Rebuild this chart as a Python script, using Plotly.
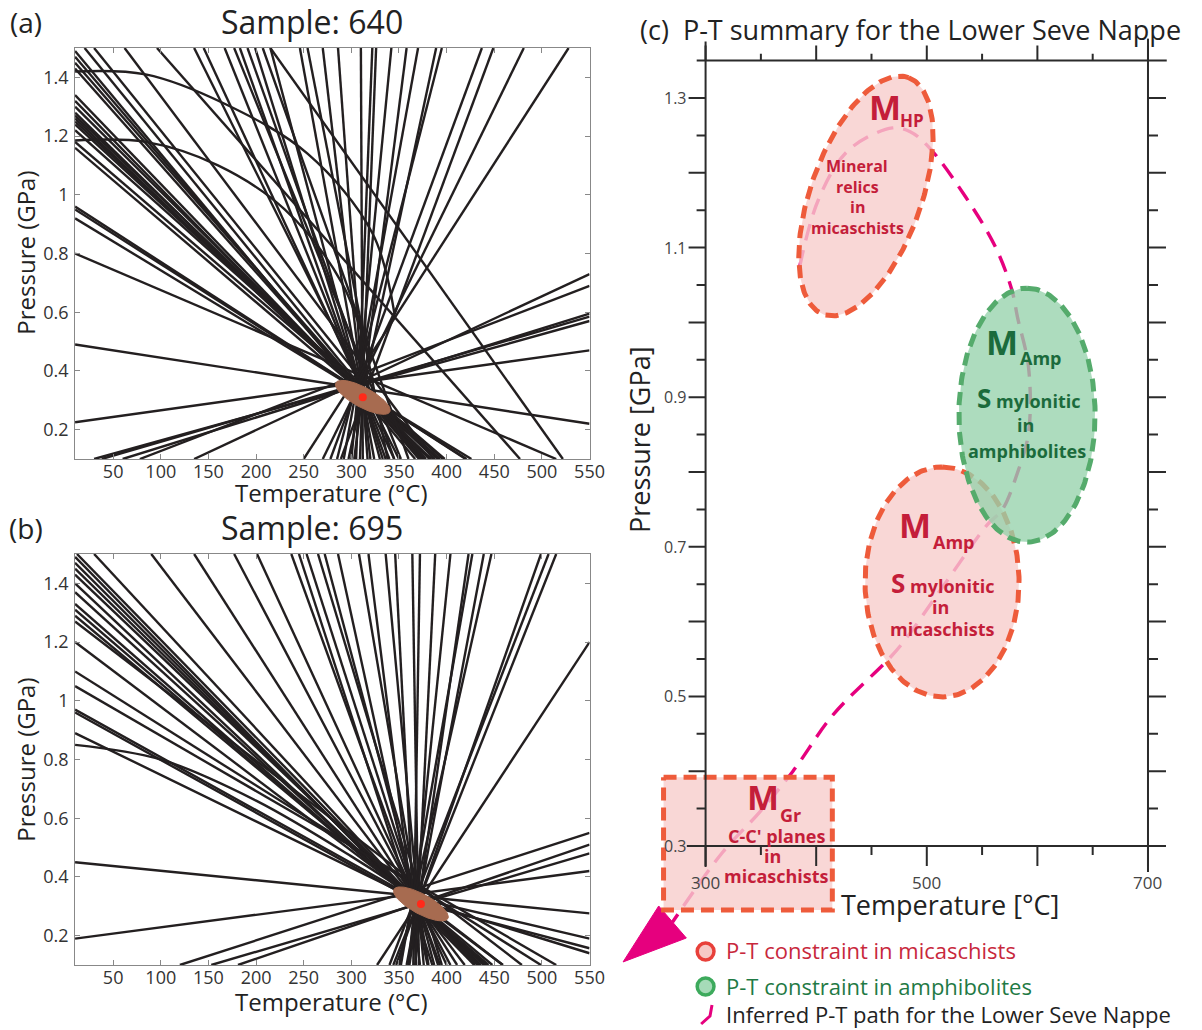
import numpy as np
import plotly.graph_objects as go

W, H = 1202, 1030
FONT = "Open Sans"

# ------------------------------------------------------------------ data
# Panel (a) - Sample 640: reaction lines, (T_start, P_start, T_end, P_end) in degC / GPa
a_lines = [
    (10, 1.49, 367, 0.10), (10, 1.47, 371, 0.10), (10, 1.45, 375, 0.10),
    (10, 1.43, 374, 0.10), (10, 1.34, 378, 0.10), (10, 1.32, 377, 0.10),
    (10, 1.30, 383, 0.10), (10, 1.28, 382, 0.10), (10, 1.27, 388, 0.10),
    (10, 1.26, 384, 0.10), (10, 1.25, 391, 0.10), (10, 1.24, 392, 0.10),
    (10, 1.22, 396, 0.10), (10, 1.18, 398, 0.10), (10, 1.16, 393, 0.10),
    (10, 0.96, 420, 0.10), (10, 0.95, 421, 0.10), (10, 0.92, 426, 0.10),
    (10, 0.80, 515, 0.10), (10, 0.49, 550, 0.22), (10, 0.225, 550, 0.47),
    (30, 0.10, 550, 0.57), (38, 0.10, 550, 0.585), (60, 0.10, 550, 0.595),
    (78, 0.10, 550, 0.69), (135, 0.10, 550, 0.73),
    (20, 1.50, 372, 0.10), (30, 1.50, 378, 0.10), (62, 1.50, 386, 0.10),
    (96, 1.50, 477, 0.10), (215, 1.50, 522, 0.10),
    (135, 1.50, 350, 0.10), (145, 1.50, 345, 0.10), (167, 1.50, 340, 0.10),
    (177, 1.50, 352, 0.10), (183, 1.50, 336, 0.10), (191, 1.50, 345, 0.10),
    (199, 1.50, 333, 0.10), (207, 1.50, 360, 0.10), (215, 1.50, 330, 0.10),
    (246, 1.50, 324, 0.10), (254, 1.50, 338, 0.10), (270, 1.50, 320, 0.10),
    (286, 1.50, 317, 0.10), (310, 1.50, 312, 0.10), (322, 1.50, 305, 0.10),
    (326, 1.50, 309, 0.10), (342, 1.50, 300, 0.10), (358, 1.50, 303, 0.10),
    (370, 1.50, 292, 0.10), (389, 1.50, 297, 0.10), (395, 1.50, 285, 0.10),
    (437, 1.50, 278, 0.10), (449, 1.50, 289, 0.10), (481, 1.50, 270, 0.10),
    (528, 1.50, 250, 0.10),
]
# curved reaction lines in (a)
a_curves = [
    [(10, 1.42), (84, 1.41), (167, 1.31), (254, 1.14), (322, 0.87), (345, 0.60)],
    [(10, 1.185), (84, 1.18), (160, 1.10), (230, 0.95), (290, 0.70), (318, 0.45)],
]
a_point = (312, 0.31)

# Panel (b) - Sample 695
b_lines = [
    (10, 1.49, 429, 0.10), (10, 1.47, 433, 0.10), (10, 1.45, 436, 0.10),
    (10, 1.43, 440, 0.10), (10, 1.40, 435, 0.10), (10, 1.37, 439, 0.10),
    (10, 1.33, 442, 0.10), (10, 1.31, 444, 0.10), (10, 1.29, 448, 0.10),
    (10, 1.27, 479, 0.10), (10, 1.20, 459, 0.10), (10, 1.10, 499, 0.10),
    (10, 1.05, 515, 0.10),
    (10, 0.45, 550, 0.276), (10, 0.19, 550, 0.42),
    (153, 0.10, 550, 0.48), (181, 0.10, 550, 0.51), (120, 0.10, 550, 0.55),
    (550, 1.20, 327, 0.10),
    (12, 1.50, 433, 0.10), (30, 1.50, 430, 0.10), (90, 1.50, 419, 0.10),
    (135, 1.50, 411, 0.10), (177, 1.50, 404, 0.10), (201, 1.50, 400, 0.10),
    (237, 1.50, 393, 0.10), (245, 1.50, 385, 0.10), (253, 1.50, 391, 0.10),
    (265, 1.50, 395, 0.10), (272, 1.50, 387, 0.10), (286, 1.50, 380, 0.10),
    (308, 1.50, 381, 0.10), (318, 1.50, 372, 0.10), (336, 1.50, 376, 0.10),
    (346, 1.50, 368, 0.10), (364, 1.50, 371, 0.10), (372, 1.50, 365, 0.10),
    (388, 1.50, 367, 0.10), (404, 1.50, 360, 0.10), (423, 1.50, 361, 0.10),
    (427, 1.50, 352, 0.10), (439, 1.50, 358, 0.10), (447, 1.50, 350, 0.10),
    (499, 1.50, 347, 0.10), (507, 1.50, 340, 0.10), (515, 1.50, 344, 0.10),
]
b_polylines = [
    [(10, 0.97), (365, 0.33), (550, 0.19)],
    [(10, 0.96), (372, 0.31), (550, 0.157)],
    [(10, 0.89), (370, 0.32), (550, 0.14)],
]
b_curves = [
    [(10, 0.85), (100, 0.80), (200, 0.66), (300, 0.47), (370, 0.32), (459, 0.10)],
]
b_point = (373, 0.308)

# Panel (c) - P-T summary
c_hp = dict(T=445, P=1.169)           # M_HP micaschists
c_amp_green = dict(T=590.6, P=0.876)  # M_Amp amphibolites
c_amp_red = dict(T=513.8, P=0.653)    # M_Amp micaschists
c_gr_T = [262, 414.6]                 # M_Gr box
c_gr_P = [0.2144, 0.392]
path_T = [385, 402, 429, 469, 485, 502, 535, 562, 577, 582, 592, 592, 582, 568, 555,
          515.6, 479, 465.6, 415.6, 379, 348.7, 315.6, 270]
path_P = [1.074, 1.164, 1.230, 1.260, 1.255, 1.234, 1.168, 1.101, 1.043, 1.007, 0.940,
          0.852, 0.799, 0.749, 0.730, 0.649, 0.573, 0.550, 0.476, 0.400, 0.345, 0.292,
          0.198]
arrow_T = [225.4, 257.6, 282.6]
arrow_P = [0.145, 0.2198, 0.177]
c_xticks_major = [300, 400, 500, 600, 700]
c_xticks_minor = [350, 450, 550, 650]
c_xlabels = [300, 500, 700]
c_yticks_major = [0.3, 0.4, 0.5, 0.6, 0.7, 0.8, 0.9, 1.0, 1.1, 1.2, 1.3]
c_yticks_minor = [0.35, 0.45, 0.55, 0.65, 0.75, 0.85, 0.95, 1.05, 1.15, 1.25]
c_ylabels = [0.3, 0.5, 0.7, 0.9, 1.1, 1.3]

ab_xticks = [50, 100, 150, 200, 250, 300, 350, 400, 450, 500, 550]
ab_yticks = [0.2, 0.4, 0.6, 0.8, 1.0, 1.2, 1.4]
ab_yticktext = ["0.2", "0.4", "0.6", "0.8", "1", "1.2", "1.4"]

# ------------------------------------------------------------------ geometry
def px(x):
    return x / W


def py(y):
    return 1 - y / H


A_BOX = (76, 597, 48, 459)
B_BOX = (76, 597, 554, 965)
AB_XR = [10, 550]
AB_YR = [0.1, 1.5]
C_XR = [215, 730]
C_YR = [0.13, 1.38]
SXC, SYC = 1.12, 748.0
c_left = 714.5 + (C_XR[0] - 300) * SXC
c_right = 714.5 + (C_XR[1] - 300) * SXC
c_bottom = 846 + (0.3 - C_YR[0]) * SYC
c_top = 846 - (C_YR[1] - 0.3) * SYC

SXA = (A_BOX[1] - A_BOX[0]) / (AB_XR[1] - AB_XR[0])
SYA = (A_BOX[3] - A_BOX[2]) / (AB_YR[1] - AB_YR[0])


def ellipse_pts(tc, pc, a_px, b_px, tilt_deg, sx, sy, n=240):
    t = np.linspace(0, 2 * np.pi, n)
    th = np.radians(tilt_deg)
    u = a_px * np.cos(t)
    v = b_px * np.sin(t)
    dx = u * np.sin(th) + v * np.cos(th)
    dy = -u * np.cos(th) + v * np.sin(th)
    return tc + dx / sx, pc - dy / sy


def build(lines, polys):
    xs, ys = [], []
    for t0, p0, t1, p1 in lines:
        xs += [t0, t1, None]
        ys += [p0, p1, None]
    for poly in polys:
        xs += [q[0] for q in poly] + [None]
        ys += [q[1] for q in poly] + [None]
    return xs, ys


LINE_COL = "#231f20"
fig = go.Figure()

for ax, lines, polys, curves, pt in [
    ("", a_lines, [], a_curves, a_point),
    ("2", b_lines, b_polylines, b_curves, b_point),
]:
    xs, ys = build(lines, polys)
    fig.add_trace(go.Scatter(x=xs, y=ys, mode="lines", xaxis="x" + ax, yaxis="y" + ax,
                             line=dict(color=LINE_COL, width=2.4), hoverinfo="skip",
                             showlegend=False))
    for cv in curves:
        fig.add_trace(go.Scatter(x=[q[0] for q in cv], y=[q[1] for q in cv], mode="lines",
                                 xaxis="x" + ax, yaxis="y" + ax, line_shape="spline",
                                 line=dict(color=LINE_COL, width=2.4), hoverinfo="skip",
                                 showlegend=False))
    ex, ey = ellipse_pts(pt[0], pt[1], 31, 10, 118, SXA, SYA)
    fig.add_trace(go.Scatter(x=ex, y=ey, mode="lines", fill="toself", xaxis="x" + ax,
                             yaxis="y" + ax, fillcolor="#a76b50",
                             line=dict(color="#a76b50", width=1), hoverinfo="skip",
                             showlegend=False))
    fig.add_trace(go.Scatter(x=[pt[0]], y=[pt[1]], mode="markers", xaxis="x" + ax,
                             yaxis="y" + ax, marker=dict(color="#ff2a1a", size=8),
                             hoverinfo="skip", showlegend=False))

# ---- panel (c)
MAG = "#e6007e"
RED_LINE = "#ee5b3b"
GREEN_LINE = "#55ab6c"
fig.add_trace(go.Scatter(x=path_T, y=path_P, mode="lines", xaxis="x3", yaxis="y3",
                         line=dict(color=MAG, width=3.4, dash="17px,10px"),
                         line_shape="spline", hoverinfo="skip", showlegend=False))
fig.add_trace(go.Scatter(x=arrow_T + [arrow_T[0]], y=arrow_P + [arrow_P[0]], mode="lines",
                         fill="toself", fillcolor=MAG, xaxis="x3", yaxis="y3",
                         line=dict(color=MAG, width=1), hoverinfo="skip", showlegend=False))

for el, a_, b_, tilt, fc, lc in [
    (c_hp, 126, 56, 20, "rgba(248,205,204,0.80)", RED_LINE),
    (c_amp_red, 115, 78, 0, "rgba(248,205,204,0.80)", RED_LINE),
    (c_amp_green, 127, 69, 0, "rgba(150,210,172,0.78)", GREEN_LINE),
]:
    ex, ey = ellipse_pts(el["T"], el["P"], a_, b_, tilt, SXC, SYC)
    fig.add_trace(go.Scatter(x=ex, y=ey, mode="lines", fill="toself", fillcolor=fc,
                             xaxis="x3", yaxis="y3",
                             line=dict(color=lc, width=5, dash="13px,7px"),
                             hoverinfo="skip", showlegend=False))

rx = [c_gr_T[0], c_gr_T[1], c_gr_T[1], c_gr_T[0], c_gr_T[0]]
ry = [c_gr_P[1], c_gr_P[1], c_gr_P[0], c_gr_P[0], c_gr_P[1]]
fig.add_trace(go.Scatter(x=rx, y=ry, mode="lines", fill="toself",
                         fillcolor="rgba(248,205,204,0.80)", xaxis="x3", yaxis="y3",
                         line=dict(color=RED_LINE, width=5, dash="13px,7px"),
                         hoverinfo="skip", showlegend=False))

# ------------------------------------------------------------------ layout
def ab_xaxis(box, anchor):
    return dict(domain=[px(box[0]), px(box[1])], range=AB_XR, anchor=anchor,
                tickvals=ab_xticks, ticks="inside", ticklen=5, tickcolor="#888",
                showline=True, linecolor="#888", linewidth=1, mirror="ticks",
                showgrid=False, zeroline=False, ticklabelstandoff=-4,
                tickfont=dict(family=FONT, size=18, color="#333"))


def ab_yaxis(box, anchor):
    return dict(domain=[py(box[3]), py(box[2])], range=AB_YR, anchor=anchor,
                tickvals=ab_yticks, ticktext=ab_yticktext, ticks="inside", ticklen=5,
                tickcolor="#888", showline=True, linecolor="#888", linewidth=1,
                mirror="ticks", showgrid=False, zeroline=False, ticklabelstandoff=2,
                tickfont=dict(family=FONT, size=18, color="#333"))


shapes = []
DK = "#2b2b2b"


def cline(x0, y0, x1, y1, w=2):
    shapes.append(dict(type="line", xref="x3", yref="y3", x0=x0, y0=y0, x1=x1, y1=y1,
                       line=dict(color=DK, width=w), layer="above"))


cline(300 - 19 / SXC, 0.3, 700 + 17 / SXC, 0.3)
cline(300 - 9 / SXC, 1.35, 700 + 19 / SXC, 1.35)
cline(300, 0.3 - 21 / SYC, 300, 1.35 + 19 / SYC)
cline(700, 0.3 - 26 / SYC, 700, 1.35 + 22 / SYC)
for tv, ln in [(v, 17) for v in c_yticks_major] + [(v, 9) for v in c_yticks_minor]:
    shapes.append(dict(type="line", xref="x3", yref="y3", xsizemode="pixel", xanchor=300,
                       x0=-ln, x1=0, y0=tv, y1=tv, line=dict(color=DK, width=2),
                       layer="above"))
    shapes.append(dict(type="line", xref="x3", yref="y3", xsizemode="pixel", xanchor=700,
                       x0=0, x1=ln + 1, y0=tv, y1=tv, line=dict(color=DK, width=2),
                       layer="above"))
for tv, ln in [(v, 20) for v in c_xticks_major] + [(v, 9) for v in c_xticks_minor]:
    shapes.append(dict(type="line", xref="x3", yref="y3", ysizemode="pixel", yanchor=0.3,
                       y0=-ln, y1=0, x0=tv, x1=tv, line=dict(color=DK, width=2),
                       layer="above"))
    shapes.append(dict(type="line", xref="x3", yref="y3", ysizemode="pixel", yanchor=1.35,
                       y0=0, y1=ln * 0.75, x0=tv, x1=tv, line=dict(color=DK, width=2),
                       layer="above"))

# legend icons (paper coordinates)
shapes.append(dict(type="circle", xref="paper", yref="paper", x0=px(706), x1=px(723),
                   y0=py(960), y1=py(943), fillcolor="#f6c9c6",
                   line=dict(color="#e8403a", width=3.5)))
shapes.append(dict(type="circle", xref="paper", yref="paper", x0=px(706), x1=px(723),
                   y0=py(995), y1=py(978), fillcolor="#a6dbb8",
                   line=dict(color="#3daa5c", width=3.5)))
shapes.append(dict(type="path", xref="paper", yref="paper",
                   path=f"M {px(721)} {py(1005)} L {px(719)} {py(1016)} L {px(710)} {py(1024)}",
                   line=dict(color=MAG, width=3)))

ann = []


def text(x, y, s, size, color="#222", xanchor="center", yanchor="middle", angle=0):
    ann.append(dict(x=px(x), y=py(y), xref="paper", yref="paper", text=s,
                    showarrow=False, xanchor=xanchor, yanchor=yanchor, textangle=angle,
                    font=dict(family=FONT, size=size, color=color)))


# panel (a) / (b) texts
text(26, 22, "(a)", 28)
text(316, 22, "Sample: 640", 32)
text(336, 493, "Temperature (°C)", 24)
text(25, 253, "Pressure (GPa)", 24, angle=-90)
text(26, 528, "(b)", 28)
text(316, 527, "Sample: 695", 32)
text(336, 1001, "Temperature (°C)", 24)
text(25, 760, "Pressure (GPa)", 24, angle=-90)

# panel (c) texts
text(646, 30, "(c)  P-T summary for the Lower Seve Nappe", 27, xanchor="left")
text(647, 440, "Pressure [GPa]", 27, angle=-90)
text(962, 904, "Temperature [°C]", 27)
for v in c_ylabels:
    ann.append(dict(x=300, y=v, xref="x3", yref="y3", text=f"{v:.1f}", showarrow=False,
                    xanchor="right", yanchor="middle", xshift=-17,
                    font=dict(family=FONT, size=16, color="#444")))
for v in c_xlabels:
    ann.append(dict(x=v, y=0.3, xref="x3", yref="y3", text=str(v), showarrow=False,
                    xanchor="center", yanchor="middle", yshift=-36,
                    font=dict(family=FONT, size=17, color="#444")))

RED_T = "#c41e3a"
GRN_T = "#1b6b3c"
text(896, 107, "<b>M</b>", 34, RED_T)
text(924, 121, "<b>HP</b>", 17, RED_T)
text(868, 166, "<b>Mineral</b>", 16, RED_T)
text(868, 187, "<b>relics</b>", 16, RED_T)
text(868, 207, "<b>in</b>", 16, RED_T)
text(868, 228, "<b>micaschists</b>", 16, RED_T)

text(1015, 342, "<b>M</b>", 34, GRN_T)
text(1054, 358, "<b>Amp</b>", 18, GRN_T)
text(1041, 398, "<b><span style='font-size:26px'>S</span> mylonitic</b>", 18, GRN_T)
text(1038, 425, "<b>in</b>", 18, GRN_T)
text(1040, 451, "<b>amphibolites</b>", 18, GRN_T)

text(927, 525, "<b>M</b>", 34, RED_T)
text(966, 542, "<b>Amp</b>", 18, RED_T)
text(954, 583, "<b><span style='font-size:26px'>S</span> mylonitic</b>", 18, RED_T)
text(952, 607, "<b>in</b>", 18, RED_T)
text(954, 629, "<b>micaschists</b>", 18, RED_T)

text(773, 797, "<b>M</b>", 34, RED_T)
text(800, 815, "<b>Gr</b>", 18, RED_T)
text(786, 836, "<b>C-C' planes</b>", 18, RED_T)
text(782, 856, "<b>in</b>", 18, RED_T)
text(786, 876, "<b>micaschists</b>", 18, RED_T)

# legend texts
text(733, 950, "P-T constraint in micaschists", 22, "#c8283c", xanchor="left")
text(733, 986, "P-T constraint in amphibolites", 22, "#1f7a45", xanchor="left")
text(733, 1014, "Inferred P-T path for the Lower Seve Nappe", 22, "#222", xanchor="left")

fig.update_layout(
    width=W, height=H, autosize=False,
    margin=dict(l=0, r=0, t=0, b=0),
    paper_bgcolor="white", plot_bgcolor="white",
    showlegend=False,
    xaxis=ab_xaxis(A_BOX, "y"), yaxis=ab_yaxis(A_BOX, "x"),
    xaxis2=ab_xaxis(B_BOX, "y2"), yaxis2=ab_yaxis(B_BOX, "x2"),
    xaxis3=dict(domain=[px(c_left), px(c_right)], range=C_XR, anchor="y3", visible=False),
    yaxis3=dict(domain=[py(c_bottom), py(c_top)], range=C_YR, anchor="x3", visible=False),
    shapes=shapes,
    annotations=ann,
)

fig.write_html("out.html",
               config={"responsive": False, "displayModeBar": False},
               post_script="document.body.style.margin='0px';"
                           "document.body.style.overflow='hidden';")
